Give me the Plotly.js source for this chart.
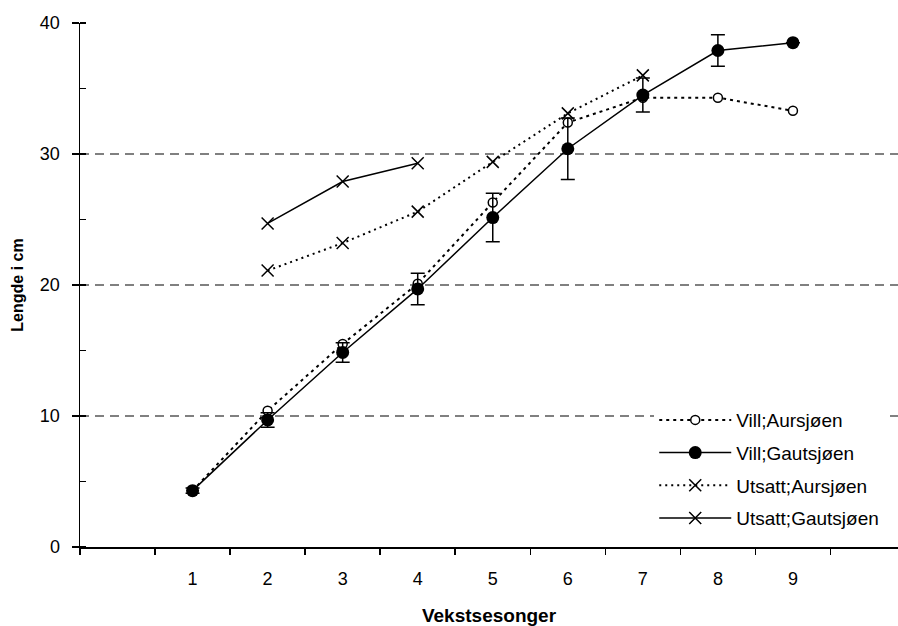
<!DOCTYPE html>
<html>
<head>
<meta charset="utf-8">
<script src="https://cdn.plot.ly/plotly-3.0.1.min.js"></script>
<style>html,body{margin:0;padding:0;background:#fff;}</style>
</head>
<body>
<div id="chart" style="width:898px;height:626px;"></div>
<script>
// Data
const seasons = [1, 2, 3, 4, 5, 6, 7, 8, 9];
const seasonsUtsattA = [2, 3, 4, 5, 6, 7];
const seasonsUtsattG = [2, 3, 4];
const tickLabels = ['1', '2', '3', '4', '5', '6', '7', '8', '9'];
const boundaryTicks = [-0.5, 0.5, 1.5, 2.5, 3.5, 4.5, 5.5, 6.5, 7.5, 8.5, 9.5];

const villAursjoen = [4.3, 10.4, 15.5, 20.1, 26.3, 32.4, 34.3, 34.3, 33.3];
const villGautsjoen = [4.3, 9.7, 14.85, 19.7, 25.15, 30.4, 34.5, 37.9, 38.5];
const villGautsjoenErr = [0.2, 0.55, 0.75, 1.2, 1.85, 2.35, 1.3, 1.2, 0];
const utsattAursjoen = [21.1, 23.2, 25.6, 29.4, 33.1, 36.0];
const utsattGautsjoen = [24.7, 27.9, 29.3];

const FONT = 'Liberation Sans, Arial, sans-serif';

const traces = [
  {
    name: 'Vill;Aursjøen', x: seasons, y: villAursjoen, type: 'scatter', mode: 'lines+markers',
    legendgroup: 'a',
    line: {color: '#000', width: 2, dash: '3px,4px'},
    marker: {symbol: 'circle', size: 9, color: '#fff', line: {color: '#000', width: 1.5}}
  },
  {
    name: 'Vill;Gautsjøen', x: seasons, y: villGautsjoen, type: 'scatter', mode: 'lines+markers',
    legendgroup: 'b',
    line: {color: '#000', width: 1.5},
    marker: {symbol: 'circle', size: 13, color: '#000'},
    error_y: {type: 'data', array: villGautsjoenErr, visible: true, color: '#000', thickness: 1.5, width: 7}
  },
  {
    name: 'Utsatt;Aursjøen', x: seasonsUtsattA, y: utsattAursjoen, type: 'scatter', mode: 'lines+markers',
    legendgroup: 'c',
    line: {color: '#000', width: 2, dash: '2px,4px'},
    marker: {symbol: 'x-thin-open', size: 12, color: '#000', line: {color: '#000', width: 1.5}}
  },
  {
    name: 'Utsatt;Gautsjøen', x: seasonsUtsattG, y: utsattGautsjoen, type: 'scatter', mode: 'lines+markers',
    legendgroup: 'd',
    line: {color: '#000', width: 1.5},
    marker: {symbol: 'x-thin-open', size: 12, color: '#000', line: {color: '#000', width: 1.5}}
  }
];

const layout = {
  width: 898, height: 626,
  margin: {l: 80, r: 0, t: 23, b: 79},
  paper_bgcolor: '#fff', plot_bgcolor: '#fff',
  font: {family: FONT, size: 17, color: '#000'},
  showlegend: true,
  legend: {
    x: 0.702, xanchor: 'left', y: 0.019, yanchor: 'bottom',
    bgcolor: '#fff', borderwidth: 0,
    font: {family: FONT, size: 19, color: '#000'},
    tracegroupgap: 5, itemwidth: 72,
    entrywidth: 250, entrywidthmode: 'pixels'
  },
  xaxis: {
    range: [-0.5, 10.4],
    tickmode: 'array', tickvals: seasons, ticktext: tickLabels,
    ticks: '', ticklabelstandoff: 15,
    minor: {tickmode: 'array', tickvals: boundaryTicks, ticks: 'outside', ticklen: 6, tickwidth: 1.5, tickcolor: '#000', showgrid: false},
    showline: true, linecolor: '#000', linewidth: 1.5,
    showgrid: false, zeroline: false,
    tickfont: {family: FONT, size: 18, color: '#000'},
    title: {text: 'Vekstsesonger', font: {family: FONT, size: 19, color: '#000', weight: 'bold'}, standoff: 20}
  },
  yaxis: {
    range: [0, 40], dtick: 10, tick0: 0,
    ticks: 'outside', ticklen: 7, tickwidth: 1.5, tickcolor: '#000',
    minor: {dtick: 5, ticks: 'inside', ticklen: 6, tickwidth: 1.5, tickcolor: '#000', showgrid: false},
    ticklabelstandoff: 8,
    showline: true, linecolor: '#000', linewidth: 1.5,
    showgrid: true, gridcolor: '#808080', gridwidth: 1.5, griddash: '9px,6px',
    zeroline: false,
    tickfont: {family: FONT, size: 18, color: '#000'},
    title: {text: 'Lengde i cm', font: {family: FONT, size: 16, color: '#000', weight: 'bold'}, standoff: 12}
  }
};

Plotly.newPlot('chart', traces, layout, {displayModeBar: false, staticPlot: true});
</script>
</body>
</html>
